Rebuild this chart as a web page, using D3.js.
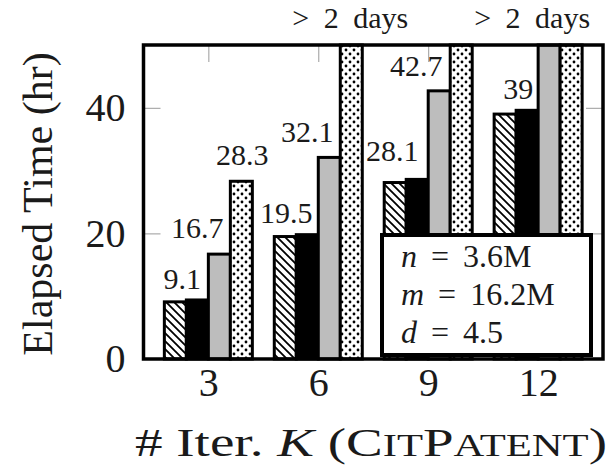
<!DOCTYPE html>
<html>
<head>
<meta charset="utf-8">
<script src="https://cdn.jsdelivr.net/npm/d3@7"></script>
<style>
  html, body { margin: 0; padding: 0; background: #fff; }
  svg { display: block; }
  svg text { font-family: "Liberation Serif", "Times New Roman", serif !important; fill: #1a1a1a; }
</style>
</head>
<body>
<svg id="chart" width="616" height="465"></svg>
<script>
// Iteration counts K on the x axis
const iterations = ["3", "6", "9", "12"];
// Elapsed hours for the four methods; Infinity = still running after 2 days
const hatchHours = [9.1, 19.5, 28.1, 39];
const blackHours = [9.4, 19.8, 28.6, 39.6];
const grayHours  = [16.7, 32.1, 42.7, Infinity];
const dotsHours  = [28.3, Infinity, Infinity, Infinity];
const seriesKeys = ["hatch", "black", "gray", "dots"];
const yTicks = [0, 20, 40];
const yMax = 50;
// Which bars carry a value label: [series index, iteration index]
const labelledBars = [[0, 0], [2, 0], [3, 0], [0, 1], [2, 1], [0, 2], [2, 2], [0, 3]];
const timeoutText = "> 2 days";
const timeoutIterations = ["6", "12"];
const datasetStats = [["n", "3.6M"], ["m", "16.2M"], ["d", "4.5"]];

const seriesValues = [hatchHours, blackHours, grayHours, dotsHours];

const svg = d3.select("#chart");
const plot = { left: 143.5, right: 603, top: 45, bottom: 359 };

const defs = svg.append("defs");
const hatch = defs.append("pattern")
  .attr("id", "hatch").attr("patternUnits", "userSpaceOnUse")
  .attr("width", 8).attr("height", 8);
hatch.append("rect").attr("width", 8).attr("height", 8).attr("fill", "#fff");
hatch.append("path")
  .attr("d", "M-1,-1 L9,9 M-1,7 L1,9 M7,-1 L9,1")
  .attr("stroke", "#000").attr("stroke-width", 1.8);
const dots = defs.append("pattern")
  .attr("id", "dots").attr("patternUnits", "userSpaceOnUse")
  .attr("width", 8).attr("height", 8);
dots.append("rect").attr("width", 8).attr("height", 8).attr("fill", "#fff");
dots.append("circle").attr("cx", 2).attr("cy", 2).attr("r", 1.4).attr("fill", "#000");
dots.append("circle").attr("cx", 6).attr("cy", 6).attr("r", 1.4).attr("fill", "#000");

const fills = { hatch: "url(#hatch)", black: "#000", gray: "#bdbdbd", dots: "url(#dots)" };

const x = d3.scalePoint().domain(iterations).range([plot.left, plot.right]).padding(0.59);
const inner = d3.scaleBand().domain(seriesKeys).range([-44, 44]).padding(0);
const y = d3.scaleLinear().domain([0, yMax]).range([plot.bottom, plot.top]);

const tickStyle = g => {
  g.select(".domain").remove();
  g.selectAll(".tick line").attr("stroke", "#9a9a9a").attr("stroke-width", 1);
  g.selectAll(".tick text").attr("font-size", 40);
};

// Axes (inward ticks on all four sides)
svg.append("g").attr("transform", `translate(${plot.left},0)`)
  .call(d3.axisLeft(y).tickValues(yTicks).tickSize(-17).tickPadding(18).tickFormat(d3.format("d")))
  .call(tickStyle);
svg.append("g").attr("transform", `translate(${plot.right},0)`)
  .call(d3.axisRight(y).tickValues(yTicks).tickSize(-17).tickFormat(""))
  .call(tickStyle);
svg.append("g").attr("transform", `translate(0,${plot.bottom})`)
  .call(d3.axisBottom(x).tickSize(-17).tickPadding(9))
  .call(tickStyle);
svg.append("g").attr("transform", `translate(0,${plot.top})`)
  .call(d3.axisTop(x).tickSize(-17).tickFormat(""))
  .call(tickStyle);

// Bars
const barData = [];
seriesKeys.forEach((key, si) => {
  iterations.forEach((it, gi) => {
    barData.push({ key, si, it, gi, v: seriesValues[si][gi] });
  });
});
const barTop = d => y(Math.min(d.v, yMax));
svg.append("g").selectAll("rect").data(barData).join("rect")
  .attr("x", d => x(d.it) + inner(d.key))
  .attr("y", barTop)
  .attr("width", inner.bandwidth())
  .attr("height", d => y(0) - barTop(d))
  .attr("fill", d => fills[d.key])
  .attr("stroke", "#000").attr("stroke-width", 3);

// Value labels above selected bars
const labelShift = [[7, -13], [-22, -16], [1, -16], [1, -14], [-22, -15], [-3, -22], [-23, -15], [13, -15]];
svg.append("g").selectAll("text").data(labelledBars).join("text")
  .attr("x", (d, i) => x(iterations[d[1]]) + inner(seriesKeys[d[0]]) + inner.bandwidth() / 2 + labelShift[i][0])
  .attr("y", (d, i) => y(seriesValues[d[0]][d[1]]) + labelShift[i][1])
  .attr("text-anchor", "middle").attr("font-size", 30)
  .text(d => String(seriesValues[d[0]][d[1]]));

// Timeout notes above the plot
const timeoutShift = { "6": 32, "12": -6 };
svg.append("g").selectAll("text").data(timeoutIterations).join("text")
  .attr("x", d => x(d) + timeoutShift[d])
  .attr("y", 28)
  .attr("text-anchor", "middle").attr("font-size", 30).attr("word-spacing", "7px")
  .text(timeoutText);

// Plot frame
svg.append("rect")
  .attr("x", plot.left).attr("y", plot.top)
  .attr("width", plot.right - plot.left).attr("height", plot.bottom - plot.top)
  .attr("fill", "none").attr("stroke", "#000").attr("stroke-width", 3.5);

// Dataset statistics box
const box = svg.append("g");
box.append("rect").attr("x", 382).attr("y", 235).attr("width", 209).attr("height", 120)
  .attr("fill", "#fff").attr("stroke", "#000").attr("stroke-width", 4);
datasetStats.forEach((s, i) => {
  const t = box.append("text").attr("x", 401).attr("y", 267 + i * 38)
    .attr("font-size", 32).attr("word-spacing", "6px");
  t.append("tspan").attr("font-style", "italic").text(s[0]);
  t.append("tspan").text(" = " + s[1]);
});

// Axis titles
svg.append("text")
  .attr("transform", "translate(52,204) rotate(-90)")
  .attr("text-anchor", "middle").attr("font-size", 42)
  .text("Elapsed Time (hr)");

const xt = svg.append("text").attr("x", 135).attr("y", 456)
  .attr("font-size", 40).attr("textLength", 472).attr("lengthAdjust", "spacingAndGlyphs");
xt.append("tspan").text("# Iter. ");
xt.append("tspan").attr("font-style", "italic").text("K");
xt.append("tspan").text(" (C");
xt.append("tspan").attr("font-size", 31).text("IT");
xt.append("tspan").text("P");
xt.append("tspan").attr("font-size", 31).text("ATENT");
xt.append("tspan").text(")");
</script>
</body>
</html>
